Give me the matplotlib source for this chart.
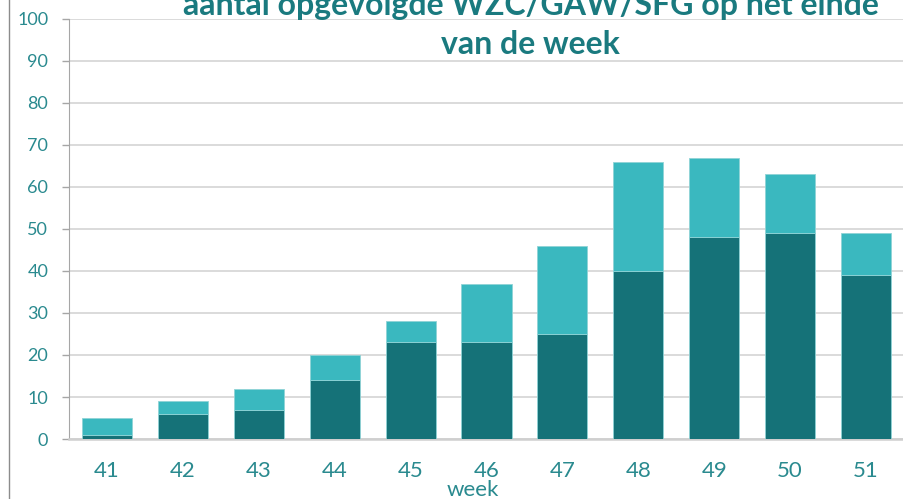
import matplotlib.pyplot as plt
from matplotlib.lines import Line2D

# data
weeks = ['41', '42', '43', '44', '45', '46', '47', '48', '49', '50', '51']
donker = [1, 6, 7, 14, 23, 23, 25, 40, 48, 49, 39]
totaal = [5, 9, 12, 20, 28, 37, 46, 66, 67, 63, 49]
licht = [t - d for t, d in zip(totaal, donker)]

plt.rcParams['font.family'] = ['Lato', 'DejaVu Sans']

c_dark = '#157278'
c_light = '#3ab8bf'
c_text = '#2a8a8f'

fig = plt.figure(figsize=(9.04, 4.99), dpi=100)
ax = fig.add_axes([0.0763, 0.1202, 0.9237, 0.842])

x = range(len(weeks))
ax.bar(x, donker, width=0.66, color=c_dark, edgecolor='#8fd3d6', linewidth=0.6, zorder=3)
ax.bar(x, licht, bottom=donker, width=0.66, color=c_light, edgecolor='#8fd3d6', linewidth=0.6, zorder=3)

ax.set_xlim(-0.5, len(weeks) - 0.5)
ax.set_ylim(0, 100)
ax.set_yticks(range(0, 101, 10))
ax.set_xticks(list(x))
ax.set_xticklabels(weeks)
ax.yaxis.grid(True, color='#d4d4d4', linewidth=1.2, zorder=0)
ax.set_axisbelow(True)

for s in ['top', 'right']:
    ax.spines[s].set_visible(False)
ax.spines['left'].set_color('#a6a6a6')
ax.spines['bottom'].set_color('#cfcfcf')
ax.spines['bottom'].set_linewidth(1.8)

ax.tick_params(axis='y', colors='#a6a6a6', length=5, width=1, pad=10, labelsize=13, labelcolor=c_text)
ax.tick_params(axis='x', length=0, pad=16, labelsize=16, labelcolor=c_text)

# title, top line partly outside the picture as in the original
fig.text(0.587, 0.988, 'aantal opgevolgde WZC/GAW/SFG op het einde',
         ha='center', va='center', fontsize=23, fontweight='bold', color='#1a7a7f')
fig.text(0.587, 0.91, 'van de week',
         ha='center', va='center', fontsize=23, fontweight='bold', color='#1a7a7f')

fig.text(0.523, 0.018, 'week', ha='center', va='center', fontsize=16, color=c_text)

# frame line on the left
fig.add_artist(Line2D([0.0095, 0.0095], [0, 1], transform=fig.transFigure, color='#8c8c8c', linewidth=1))

fig.savefig('out.png', dpi=100)
